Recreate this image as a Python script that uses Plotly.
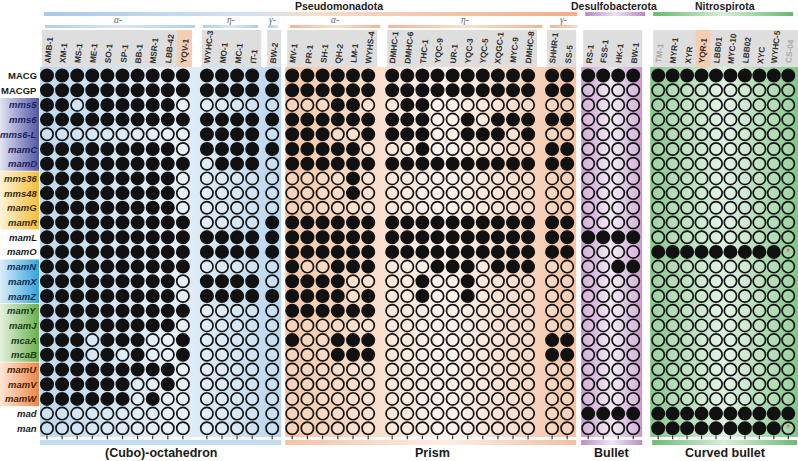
import plotly.graph_objects as go

# ---------------- data ----------------
rows = ["MACG", "MACGP", "mms5", "mms6", "mms6-L", "mamC", "mamD", "mms36", "mms48",
        "mamG", "mamR", "mamL", "mamO", "mamN", "mamX", "mamZ", "mamY", "mamJ",
        "mcaA", "mcaB", "mamU", "mamV", "mamW", "mad", "man"]
plain_rows = ["MACG", "MACGP"]

cubo_alpha = ["AMB-1", "XM-1", "MS-1", "ME-1", "SO-1", "SP-1", "BB-1", "MSR-1", "LBB-42", "YQV-1"]
cubo_eta = ["WYHC-3", "MO-1", "MC-1", "IT-1"]
cubo_gamma = ["BW-2"]
prism_alpha = ["MV-1", "PR-1", "SH-1", "QH-2", "LM-1", "WYHS-4"]
prism_eta = ["DMHC-1", "DMHC-6", "THC-1", "YQC-9", "UR-1", "YQC-3", "YQC-5", "XQGC-1", "MYC-9", "DMHC-8"]
prism_gamma = ["SHHR-1", "SS-5"]
desulfo = ["RS-1", "FSS-1", "HK-1", "BW-1"]
nitro = ["TM-1", "MYR-1", "XYR", "YQR-1", "LBB01", "MYC-10", "LBB02", "XYC", "WYHC-5", "CS-04"]

faded_labels = ["TM-1", "CS-04"]
tinted_labels = ["YQV-1", "YQR-1"]

# presence: 1 = present (filled), 0 = absent (open), * = absent, marked with asterisk
# order: cubo_alpha | cubo_eta | cubo_gamma | prism_alpha | prism_eta | prism_gamma | desulfo | nitro
presence = {
    "MACG":   "1111111111 1111 1 111111 1111111111 11 1111 1111111111",
    "MACGP":  "1111111111 1111 1 111111 1111111111 11 0000 0000000000",
    "mms5":   "1101111110 0000 0 000110 0110000000 00 0000 0000000000",
    "mms6":   "1111111111 1111 1 111111 1110010111 11 0000 0000000000",
    "mms6-L": "0000000000 1111 0 111001 1110011101 00 0000 0000000000",
    "mamC":   "1111111110 1111 1 111110 0010000000 11 0000 0000000000",
    "mamD":   "1111111111 0111 0 111111 1111111111 11 0000 0000000000",
    "mms36":  "1111111110 0000 0 000010 0000000000 00 0000 0000000000",
    "mms48":  "1111111110 0000 0 000010 0000000000 00 0000 0000000000",
    "mamG":   "1111111110 0000 0 000000 0000000000 00 0000 0000000000",
    "mamR":   "1111111111 0000 1 111111 1111111111 11 0000 0000000000",
    "mamL":   "1111111111 1111 1 111111 1111111111 11 1111 0000000000",
    "mamO":   "1111111111 1111 1 111111 1111111111 11 0000 111111111*",
    "mamN":   "1111111111 0000 0 100111 0001110111 00 0011 0000000000",
    "mamX":   "1111111110 1111 0 111100 0010010000 00 0000 0000000000",
    "mamZ":   "1111111110 1111 1 111101 0010010000 00 0000 0000000000",
    "mamY":   "1111111111 0000 0 111111 0000000000 00 0000 0000000000",
    "mamJ":   "1111111110 0000 0 000000 0000000000 00 0000 0000000000",
    "mcaA":   "1110111001 0000 0 100111 0000000000 11 0000 0000000000",
    "mcaB":   "1110101001 0000 0 000111 0000000000 11 0000 0000000000",
    "mamU":   "1111111110 0000 0 000000 0000000000 00 0000 0000000000",
    "mamV":   "1111110010 0000 0 000000 0000000000 00 0000 0000000000",
    "mamW":   "1111110100 0000 0 000000 0000000000 00 0000 0000000000",
    "mad":    "0000000000 0000 0 000000 0000000000 00 1111 1111111111",
    "man":    "0000000000 0000 0 000000 0000000000 00 0000 111111111*",
}

phyla = ["Pseudomonadota", "Desulfobacterota", "Nitrospirota"]
classes = ["α-", "η-", "γ-", "α-", "η-", "γ-"]
morphologies = ["(Cubo)-octahedron", "Prism", "Bullet", "Curved bullet"]

# ---------------- layout helpers (pixel space) ----------------
W, H = 798, 461
groups = [cubo_alpha, cubo_eta, cubo_gamma, prism_alpha, prism_eta, prism_gamma, desulfo, nitro]
gaps = [0, 24, 20, 20, 24, 24, 21, 25]
steps = [15.1, 15.1, 15.1, 15.2, 15.1, 15.1, 15.0, 14.45]
X0 = 47.0
ROW0, ROWSTEP = 75.5, 14.7

group_x = []
cur = X0
for gi, g in enumerate(groups):
    if gi > 0:
        cur = group_x[-1][-1] + gaps[gi]
    xs = [cur + k * steps[gi] for k in range(len(g))]
    group_x.append(xs)

row_y = {r: ROW0 + i * ROWSTEP for i, r in enumerate(rows)}

fig = go.Figure()


def grad_rect(x0, x1, y0, y1, stops, orient="horizontal"):
    fig.add_trace(go.Scatter(
        x=[x0, x1, x1, x0, x0], y=[y0, y0, y1, y1, y0], mode="lines",
        line=dict(width=0, color="rgba(0,0,0,0)"), fill="toself",
        fillgradient=dict(type=orient, colorscale=stops),
        hoverinfo="skip", showlegend=False))


def first(gi):
    return group_x[gi][0]


def last(gi):
    return group_x[gi][-1]


# ---- background panels ----
panel_top, panel_bot = 67, 437
blue_stops = [[0, "#bdd8ef"], [0.55, "#e6f0f9"], [0.75, "#d5e6f4"], [1, "#bad6ef"]]
peach_stops = [[0, "#f5c7a7"], [0.3, "#f9ddca"], [0.55, "#fdf2ec"], [1, "#f4c3a3"]]
purple_stops = [[0, "#c59acd"], [0.5, "#f1e7f3"], [1, "#c59acd"]]
green_stops = [[0, "#84c78b"], [0.5, "#dff0e0"], [1, "#82c689"]]

grad_rect(first(0) - 7, last(2) + 9, panel_top, panel_bot, blue_stops)
grad_rect(first(3) - 7, last(5) + 9, panel_top, panel_bot, peach_stops)
grad_rect(first(6) - 7, last(6) + 9, panel_top, panel_bot, purple_stops)
grad_rect(first(7) - 8, W, panel_top, panel_bot, green_stops)

# ---- bottom bars ----
grad_rect(first(0) - 7, last(2) + 9, 440, 445, [[0, "#c2dcf0"], [1, "#c2dcf0"]])
grad_rect(first(3) - 7, last(5) + 9, 440, 445, [[0, "#f3c2a2"], [0.55, "#fbeee6"], [1, "#f3bf9f"]])
grad_rect(first(6) - 7, last(6) + 9, 440, 445, [[0, "#b98fc6"], [0.5, "#f0e6f2"], [1, "#b98fc6"]])
grad_rect(first(7) - 6, W - 1, 440, 445, [[0, "#6dbb73"], [0.5, "#d8eed9"], [1, "#6dbb73"]])

# ---- top phylum bars ----
grad_rect(first(0) - 3, last(5) + 10, 12, 16,
          [[0, "#a9c9e8"], [0.38, "#d3e2f0"], [0.5, "#f5ddcd"], [1, "#f0ae88"]])
grad_rect(first(6) - 3, last(6) + 12, 12, 16, [[0, "#b48ac3"], [0.5, "#ede2f0"], [1, "#b48ac3"]])
grad_rect(first(7) - 5, W - 5, 12, 16, [[0, "#66b86d"], [0.5, "#d6edd8"], [1, "#66b86d"]])

# ---- class bars ----
cls_blue = [[0, "#aecbe7"], [1, "#d7e5f2"]]
cls_peach = [[0, "#f2b692"], [1, "#f9d8c4"]]
grad_rect(first(0) - 2, last(0) + 12, 25, 28, [[0, "#b3cfe9"], [0.5, "#dbe7f2"], [1, "#b3cfe9"]])
grad_rect(first(1) - 4, last(1) + 6, 25, 28, [[0, "#b3cfe9"], [0.5, "#dbe7f2"], [1, "#b3cfe9"]])
grad_rect(first(2) - 4, last(2) + 6, 25, 28, cls_blue)
grad_rect(first(3) - 2, last(3) + 12, 25, 28, [[0, "#f2b692"], [0.5, "#f9e0d0"], [1, "#f2b692"]])
grad_rect(first(4) - 4, last(4) + 14, 25, 28, [[0, "#f2b692"], [0.5, "#f9e0d0"], [1, "#f2b692"]])
grad_rect(first(5) - 2, last(5) + 10, 25, 28, cls_peach)

# ---- grey label boxes ----
shapes = []
for gi in range(len(groups)):
    x0 = first(gi) - 5
    x1 = last(gi) + 9 if gi < 7 else W
    shapes.append(dict(type="rect", x0=x0, x1=x1, y0=30, y1=67, line=dict(width=0),
                       fillcolor="#dedede", layer="below"))
for gi, g in enumerate(groups):
    for name, x in zip(g, group_x[gi]):
        if name in tinted_labels:
            shapes.append(dict(type="rect", x0=x - 6, x1=x + 9, y0=30, y1=67, line=dict(width=0),
                               fillcolor="#f5cdb2", layer="below"))

# ---- left label colour blocks ----
blocks = [(2, 6, [[0, "#e3e4f2"], [1, "#5257a5"]]),
          (7, 10, [[0, "#fdf4d6"], [1, "#f5bd3c"]]),
          (13, 15, [[0, "#d9eef9"], [1, "#35a2dc"]]),
          (16, 19, [[0, "#e6f1de"], [1, "#68b04d"]]),
          (20, 22, [[0, "#fde6d5"], [1, "#ef8646"]])]
block_text = ["#1d2260", "#3d2b05", "#0c2f52", "#1c3a10", "#4a1f05"]
row_color = {}
for (a, b, stops), tc in zip(blocks, block_text):
    grad_rect(0, 39, ROW0 + a * ROWSTEP - 7.0, ROW0 + b * ROWSTEP + 7.0, stops)
    for i in range(a, b + 1):
        row_color[rows[i]] = tc

# ---- circles ----
fx, fy, ox, oy, sx, sy = [], [], [], [], [], []
all_x = [x for xs in group_x for x in xs]
for r in rows:
    flags = presence[r].replace(" ", "")
    for x, f in zip(all_x, flags):
        if f == "1":
            fx.append(x); fy.append(row_y[r])
        else:
            ox.append(x); oy.append(row_y[r])
            if f == "*":
                sx.append(x); sy.append(row_y[r] + 1.5)

# bottom tick marks (small stubs below the last row)
fig.add_trace(go.Scatter(x=all_x, y=[437.5] * len(all_x), mode="markers", hoverinfo="skip",
                         showlegend=False,
                         marker=dict(symbol="line-ns", size=2.5, line=dict(color="#333", width=1.2))))

fig.add_trace(go.Scatter(x=ox, y=oy, mode="markers", hoverinfo="skip", showlegend=False,
                         marker=dict(symbol="circle", size=12.3, color="rgba(255,255,255,0.2)",
                                     line=dict(color="#151515", width=1.7))))
fig.add_trace(go.Scatter(x=fx, y=fy, mode="markers", hoverinfo="skip", showlegend=False,
                         marker=dict(symbol="circle", size=12.3, color="#111111",
                                     line=dict(color="#111111", width=1.7))))
fig.add_trace(go.Scatter(x=sx, y=sy, mode="text", text=["*"] * len(sx), hoverinfo="skip",
                         showlegend=False, textfont=dict(color="#e0583c", size=10,
                                                         family="Liberation Sans")))

# ---------------- annotations ----------------
ann = []
LBL = "Liberation Sans"
for r in rows:
    txt = f"<b>{r}</b>" if r in plain_rows else f"<b><i>{r}</i></b>"
    ann.append(dict(x=38.5, y=row_y[r], text=txt, xanchor="right", yanchor="middle",
                    showarrow=False, font=dict(family=LBL, size=9.5,
                                               color=row_color.get(r, "#1a1a1a"))))

for gi, g in enumerate(groups):
    for name, x in zip(g, group_x[gi]):
        col = "#a9a9a9" if name in faded_labels else "#2e2e2e"
        ann.append(dict(x=x + 1.5, y=66, text=f"<b>{name}</b>", textangle=-84,
                        xanchor="center", yanchor="bottom", showarrow=False,
                        font=dict(family=LBL, size=8.3, color=col)))

# phylum titles
ann.append(dict(x=(first(0) + last(5)) / 2 + 32, y=6, text="<b>" + phyla[0] + "</b>",
                showarrow=False, font=dict(family=LBL, size=10.5, color="#222")))
ann.append(dict(x=(first(6) + last(6)) / 2 + 3, y=6, text="<b>" + phyla[1] + "</b>",
                showarrow=False, font=dict(family=LBL, size=10.5, color="#222")))
ann.append(dict(x=(first(7) + last(7)) / 2 + 2, y=6, text="<b>" + phyla[2] + "</b>",
                showarrow=False, font=dict(family=LBL, size=10.5, color="#222")))

# class labels
cls_x = [(first(0) + last(0)) / 2 + 3, (first(1) + last(1)) / 2 + 1, first(2),
         (first(3) + last(3)) / 2 + 5, (first(4) + last(4)) / 2 + 5, (first(5) + last(5)) / 2 + 4]
for t, x in zip(classes, cls_x):
    ann.append(dict(x=x, y=19.5, text=f"<i>{t}</i>", showarrow=False,
                    font=dict(family="Liberation Serif", size=9.5, color="#666")))

# morphology labels
morph_x = [(first(0) + last(2)) / 2 + 1, (first(3) + last(5)) / 2 + 3,
           (first(6) + last(6)) / 2 + 1, (first(7) + last(7)) / 2 + 2]
for t, x in zip(morphologies, morph_x):
    ann.append(dict(x=x, y=453, text=t, showarrow=False,
                    font=dict(family="Liberation Sans Narrow, Liberation Sans", size=12.5,
                              color="#1a1a1a", weight="bold")))

fig.update_layout(
    width=W, height=H, margin=dict(l=0, r=0, t=0, b=0),
    paper_bgcolor="white", plot_bgcolor="white",
    xaxis=dict(range=[0, W], visible=False, fixedrange=True),
    yaxis=dict(range=[H, 0], visible=False, fixedrange=True),
    shapes=shapes, annotations=ann, showlegend=False,
)

fig.write_html("out.html", config={"displayModeBar": False},
               post_script="document.body.style.margin='0px';document.body.style.overflow='hidden';")
